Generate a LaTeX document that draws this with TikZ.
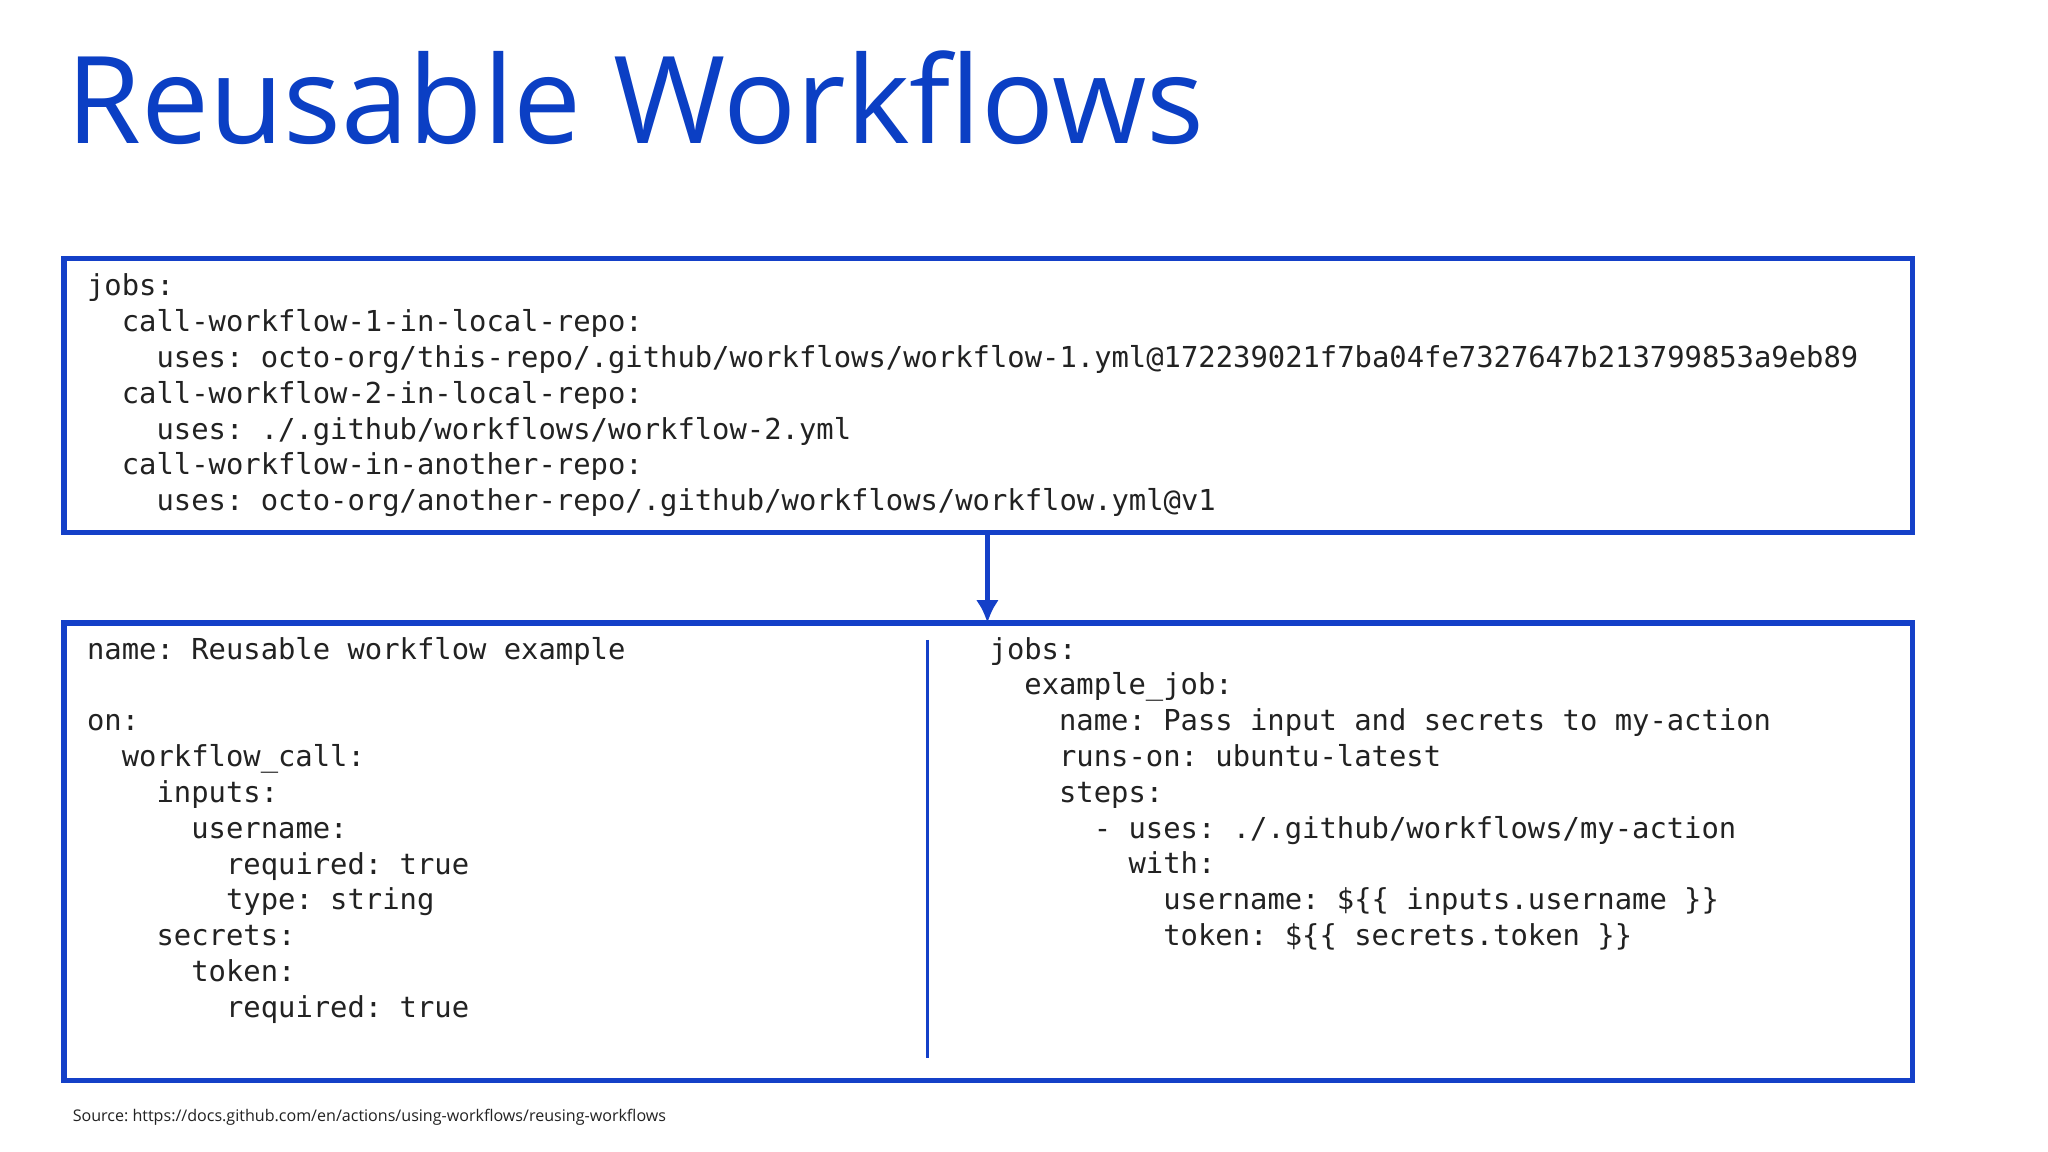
\documentclass[tikz,border=0pt]{standalone}
\usepackage{fontspec}
\usetikzlibrary{arrows.meta}
\setmainfont{Open Sans}
\newfontfamily\codefont{DejaVu Sans Mono}
\definecolor{tblue}{HTML}{0B3FC4}
\definecolor{bblue}{HTML}{1440C8}
\definecolor{code}{HTML}{222222}
\newcommand\myind[1]{\hphantom{#1}}
\frenchspacing
\begin{document}
\begin{tikzpicture}[x=0.01cm,y=-0.01cm,
  codeblk/.style={anchor=base west,inner sep=0,align=left,text=code,
    font=\codefont\fontsize{6.28pt}{7.8pt}\selectfont\frenchspacing},
  frame/.style={draw=bblue,line width=1.1pt}]
\useasboundingbox[fill=white] (0,0) rectangle (1568,882);
\node[anchor=base west,inner sep=0,text=tblue,font=\fontsize{26.4pt}{30pt}\selectfont] (title) at (50,110) {Reusable Workflows};
\draw[frame] (49,198) rectangle (1464,408);
\coordinate (topb) at (756,408);
\coordinate (topa) at (756,477);
\draw[frame] (49,477) rectangle (1464,827);
\draw[bblue,line width=1.1pt,-{Latex[length=5pt,width=5pt]}] (topb) -- (topa);
\draw[bblue,line width=0.8pt] (710,490) -- (710,810);
\node[codeblk] (c1) at (66,391) {jobs:\\
\myind{xx}call-workflow-1-in-local-repo:\\
\myind{xxxx}uses: octo-org/this-repo/.github/workflows/workflow-1.yml@172239021f7ba04fe7327647b213799853a9eb89\\
\myind{xx}call-workflow-2-in-local-repo:\\
\myind{xxxx}uses: ./.github/workflows/workflow-2.yml\\
\myind{xx}call-workflow-in-another-repo:\\
\myind{xxxx}uses: octo-org/another-repo/.github/workflows/workflow.yml@v1};
\node[codeblk] (c2) at (66,779) {name: Reusable workflow example\\
\\
on:\\
\myind{xx}workflow\_call:\\
\myind{xxxx}inputs:\\
\myind{xxxxxx}username:\\
\myind{xxxxxxxx}required: true\\
\myind{xxxxxxxx}type: string\\
\myind{xxxx}secrets:\\
\myind{xxxxxx}token:\\
\myind{xxxxxxxx}required: true};
\node[codeblk] (c3) at (757,724) {jobs:\\
\myind{xx}example\_job:\\
\myind{xxxx}name: Pass input and secrets to my-action\\
\myind{xxxx}runs-on: ubuntu-latest\\
\myind{xxxx}steps:\\
\myind{xxxxxx}- uses: ./.github/workflows/my-action\\
\myind{xxxxxxxx}with:\\
\myind{xxxxxxxxxx}username: \$\{\{ inputs.username \}\}\\
\myind{xxxxxxxxxx}token: \$\{\{ secrets.token \}\}};
\node[anchor=base west,inner sep=0,text=code,font=\fontsize{3.5pt}{4pt}\selectfont] (src) at (55,859) {Source: https://docs.github.com/en/actions/using-workflows/reusing-workflows};
\end{tikzpicture}
\end{document}
